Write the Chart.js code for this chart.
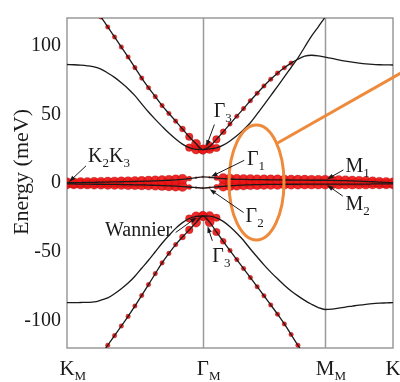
<!DOCTYPE html>
<html>
<head>
<meta charset="utf-8">
<script src="https://cdn.jsdelivr.net/npm/chart.js@4.4.1/dist/chart.umd.min.js"></script>
<style>
  html, body { margin: 0; padding: 0; background: #fff; }
  canvas { display: block; }
</style>
</head>
<body>
<canvas id="bands" width="400" height="382"></canvas>
<script>
// --- DATA ---
// k path index: K_M (0) -> Gamma_M (20) -> M_M (38) -> K_M (48)
const kPath = [0,1,2,3,4,5,6,7,8,9,10,11,12,13,14,15,16,17,18,19,20,
  21,22,23,24,25,26,27,28,29,30,31,32,33,34,35,36,37,38,
  39,40,41,42,43,44,45,46,47,48];
const kTicks = [0, 20, 38, 48];
const kTickNames = [['K','M'], ['Γ','M'], ['M','M'], ['K','M']];
const energyTicks = [-100, -50, 0, 50, 100];

// upper Γ3 branch carrying the Wannier weight (meV)
const upperW = [157, 149.8, 142.5, 135.2, 128, 120.7, 113.5, 106.2, 98.9, 91.6, 83.9,
  76.3, 69.3, 62.8, 56.3, 50.6, 45.0, 39.3, 33.6, 28.5, 24.3,
  26.5, 31.7, 37.2, 42.9, 48.6, 54.1, 59.8, 65.3, 70.6, 75.5, 79.9, 83.8, 87.2, 90.0,
  92.2, 92.9, 92.5, 91.5, 90.6, 89.6, 88.7, 87.9, 87.2, 86.6, 86.2, 86.0, 85.9, 85.8];
// other upper band
const upperC = [86.2, 86.0, 85.7, 85.2, 84.4, 82.8, 80.0, 76.8, 72.9, 68.6, 63.5,
  57.5, 51.6, 46.3, 41.2, 36.3, 32.0, 28.3, 25.7, 24.4, 24.3,
  24.8, 25.5, 27.5, 30.6, 34.3, 38.8, 43.8, 50.2, 56.9, 63.6, 70.3, 77.2, 84.0, 90.9,
  98.9, 106.8, 113.6, 120.5, 127, 133, 138, 142, 145, 147, 149, 150, 151, 151.5];
// lower Γ3 branch carrying the Wannier weight
const lowerW = [-160, -153, -146, -139, -132, -125, -118, -111, -104, -97, -89.5,
  -81.8, -73.9, -65.9, -58.1, -51.2, -44.8, -39.3, -34.1, -28.8, -24.0,
  -28.5, -35.6, -42.4, -49.1, -55.7, -62.2, -68.8, -75.4, -82.0, -88.7, -95.4, -102.5, -110.2, -118.0,
  -125, -132, -139, -146, -152, -157, -161, -165, -168, -171, -173, -175, -176, -177];
// other lower band
const lowerC = [-87.0, -87.0, -86.9, -86.8, -86.5, -85.2, -83.6, -80.5, -76.9, -72.8, -67.8,
  -62.0, -56.2, -50.0, -43.8, -38.2, -33.0, -28.8, -25.8, -24.3, -24.0,
  -24.1, -25.3, -27.9, -31.8, -36.5, -41.8, -48.0, -53.8, -59.5, -64.8, -69.7, -74.3, -78.5, -82.1,
  -85.4, -88.2, -90.6, -92.0, -91.7, -91.0, -90.2, -89.5, -88.8, -88.2, -87.7, -87.4, -87.2, -87.0];
// flat bands M1 / M2
const flatM1 = [0.2, 0.2, 0.3, 0.4, 0.5, 0.6, 0.7, 0.8, 0.9, 1.0, 1.1,
  1.2, 1.4, 1.6, 1.8, 2.0, 2.3, 2.7, 3.2, 3.9, 4.5,
  4.1, 3.6, 3.2, 2.9, 2.7, 2.6, 2.5, 2.4, 2.4, 2.3, 2.3, 2.2, 2.2, 2.1,
  2.1, 2.0, 2.0, 2.0, 1.9, 1.8, 1.7, 1.5, 1.3, 1.1, 0.9, 0.6, 0.4, 0.2];
const flatM2 = [-0.7, -0.7, -0.8, -0.8, -0.9, -0.9, -1.0, -1.0, -1.1, -1.2, -1.3,
  -1.4, -1.5, -1.7, -1.9, -2.1, -2.3, -2.6, -2.9, -3.3, -3.7,
  -3.3, -2.8, -2.4, -2.0, -1.7, -1.5, -1.3, -1.2, -1.1, -1.0, -1.0, -0.9, -0.9, -0.9,
  -0.8, -0.8, -0.8, -0.8, -0.8, -0.8, -0.8, -0.8, -0.8, -0.8, -0.7, -0.7, -0.7, -0.7];

// which k indices carry Wannier points, per band
const upperWDots = [0, 33];
const upperCDots = [18, 22];
const lowerWDots = [0, 35];
const lowerCDots = [18, 22];
const flatDots = [0, 48];

// --- STYLE ---
const SERIF = "'Liberation Serif', 'DejaVu Serif', serif";
const INK = '#1a1a1a';
const RED = 'rgba(238,22,22,0.92)';
const ORANGE = '#ee8a3c';
const GAMMA = kTicks[1];

function dispRadius(k) {
  const d = Math.abs(k - GAMMA);
  return d <= 1 ? 4.6 : d === 2 ? 3.8 : d === 3 ? 3 : 2.3;
}
function flatRadius(k) {
  const d = Math.abs(k - GAMMA);
  return d <= 1 ? 1 : d === 2 ? 2.5 : 5;
}

function lineSet(vals) {
  return {
    data: kPath.map((k, i) => ({ x: k, y: vals[i] })),
    borderColor: INK, borderWidth: 1.3, pointRadius: 0,
    cubicInterpolationMode: 'monotone', fill: false, order: 0
  };
}
function dotSet(vals, range, flat) {
  const pts = [];
  for (let i = range[0]; i <= range[1]; i++) pts.push({ x: kPath[i], y: vals[i] });
  return {
    data: pts, showLine: false, order: 1,
    pointRadius: c => flat ? flatRadius(c.raw.x) : dispRadius(c.raw.x),
    pointBackgroundColor: RED, pointBorderColor: 'rgba(140,0,0,0.5)', pointBorderWidth: 0.5
  };
}

// --- ANNOTATIONS (data coords: [k index, meV]) ---
const notes = [
  { parts: [['K','2'], ['K','3']], at: [3.1, 15.1], from: [2.8, 12.5], to: [0.3, 0.8] },
  { parts: [['Γ','3']], at: [21.6, 48], from: [21.7, 42.5], to: [20.5, 26.5] },
  { parts: [['Γ','1']], at: [26.5, 13], from: [26.1, 16.5], to: [21.2, 4.6] },
  { parts: [['Γ','2']], at: [26.3, -28.4], from: [26.0, -21.5], to: [21.0, -4.5] },
  { parts: [['M','1']], at: [41.0, 8.1], from: [40.7, 9.5], to: [38.3, 2.8] },
  { parts: [['M','2']], at: [41.0, -19.9], from: [40.6, -9.5], to: [38.3, -1.5] },
  { parts: [['Wannier','']], at: [5.6, -38.7], from: [16.0, -36], to: [19.1, -25] },
  { parts: [['Γ','3']], at: [21.4, -57.7], from: [21.4, -42], to: [20.7, -31.5] }
];

function drawParts(ctx, x, y, parts, size) {
  let cx = x;
  parts.forEach(([main, sub]) => {
    ctx.font = size + 'px ' + SERIF;
    ctx.fillText(main, cx, y);
    cx += ctx.measureText(main).width;
    if (sub) {
      ctx.font = Math.round(size * 0.63) + 'px ' + SERIF;
      ctx.fillText(sub, cx, y + size * 0.24);
      cx += ctx.measureText(sub).width;
    }
  });
}

function arrow(ctx, x1, y1, x2, y2) {
  const a = Math.atan2(y2 - y1, x2 - x1);
  ctx.beginPath();
  ctx.moveTo(x1, y1);
  ctx.lineTo(x2 - 4 * Math.cos(a), y2 - 4 * Math.sin(a));
  ctx.stroke();
  ctx.beginPath();
  ctx.moveTo(x2, y2);
  ctx.lineTo(x2 - 6.5 * Math.cos(a) + 2.3 * Math.sin(a), y2 - 6.5 * Math.sin(a) - 2.3 * Math.cos(a));
  ctx.lineTo(x2 - 6.5 * Math.cos(a) - 2.3 * Math.sin(a), y2 - 6.5 * Math.sin(a) + 2.3 * Math.cos(a));
  ctx.closePath();
  ctx.fill();
}

const decor = {
  id: 'decor',
  beforeDatasetsDraw(chart) {
    const { ctx, chartArea: a, scales: { x } } = chart;
    ctx.save();
    ctx.strokeStyle = '#9a9a9a';
    ctx.lineWidth = 1.5;
    ctx.strokeRect(a.left, a.top, a.right - a.left, a.bottom - a.top);
    [kTicks[1], kTicks[2]].forEach(k => {
      const px = Math.round(x.getPixelForValue(k)) + 0.5;
      ctx.beginPath();
      ctx.moveTo(px, a.top);
      ctx.lineTo(px, a.bottom);
      ctx.stroke();
    });
    ctx.restore();
  },
  afterDatasetsDraw(chart) {
    const { ctx, chartArea: a, scales: { x, y } } = chart;
    const px = p => [x.getPixelForValue(p[0]), y.getPixelForValue(p[1])];
    ctx.save();

    // orange highlight
    const c = px([27.9, 0.4]);
    ctx.strokeStyle = ORANGE;
    ctx.lineWidth = 3;
    ctx.beginPath();
    ctx.ellipse(c[0], c[1], 27.5, 57.5, 0, 0, Math.PI * 2);
    ctx.stroke();
    const s = px([31.0, 29.1]), e = px([49.2, 80.1]);
    ctx.beginPath();
    ctx.moveTo(s[0], s[1]);
    ctx.lineTo(e[0], e[1]);
    ctx.stroke();

    // labels with arrows
    ctx.fillStyle = INK;
    ctx.strokeStyle = INK;
    ctx.lineWidth = 1;
    ctx.textAlign = 'left';
    ctx.textBaseline = 'alphabetic';
    notes.forEach(n => {
      const f = px(n.from), t = px(n.to), p = px(n.at);
      arrow(ctx, f[0], f[1], t[0], t[1]);
      drawParts(ctx, p[0], p[1], n.parts, 20);
    });

    // x tick names, main letter centred on the tick
    kTickNames.forEach((nm, i) => {
      const tx = x.getPixelForValue(kTicks[i]);
      ctx.font = '21px ' + SERIF;
      const w = ctx.measureText(nm[0]).width;
      drawParts(ctx, tx - w / 2, a.bottom + 27, [nm], 21);
    });

    // y title
    ctx.translate(22, 172);
    ctx.rotate(-Math.PI / 2);
    ctx.textAlign = 'center';
    ctx.textBaseline = 'middle';
    ctx.font = '22px ' + SERIF;
    ctx.fillText('Energy (meV)', 0, 0);
    ctx.restore();
  }
};

new Chart(document.getElementById('bands'), {
  type: 'line',
  data: {
    datasets: [
      lineSet(upperW), lineSet(upperC), lineSet(lowerW), lineSet(lowerC),
      lineSet(flatM1), lineSet(flatM2),
      dotSet(flatM1, flatDots, true), dotSet(flatM2, flatDots, true),
      dotSet(upperW, upperWDots, false), dotSet(upperC, upperCDots, false),
      dotSet(lowerW, lowerWDots, false), dotSet(lowerC, lowerCDots, false)
    ]
  },
  options: {
    responsive: false,
    animation: false,
    layout: { padding: { top: 5, right: 7, left: 0, bottom: 0 } },
    plugins: { legend: { display: false }, tooltip: { enabled: false } },
    scales: {
      x: {
        type: 'linear', min: kTicks[0], max: kTicks[3],
        afterBuildTicks: s => { s.ticks = kTicks.map(v => ({ value: v })); },
        afterFit: s => { s.height = 34; },
        ticks: { display: false },
        grid: { display: false },
        border: { display: false }
      },
      y: {
        min: -120, max: 120,
        afterBuildTicks: s => { s.ticks = energyTicks.map(v => ({ value: v })); },
        afterFit: s => { s.width = 67; },
        ticks: { padding: 6, color: INK, font: { family: SERIF, size: 20 } },
        grid: { display: false, drawTicks: false },
        border: { display: false }
      }
    }
  },
  plugins: [decor]
});
</script>
</body>
</html>
